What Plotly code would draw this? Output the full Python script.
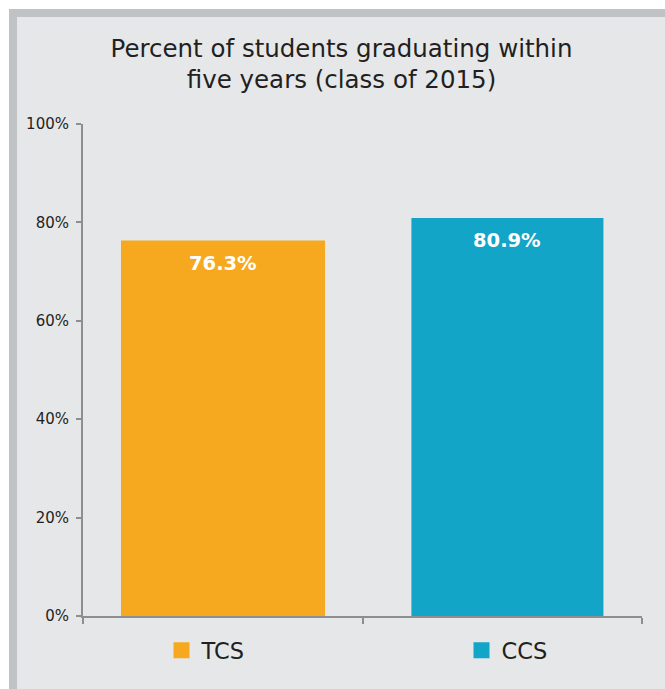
import plotly.graph_objects as go

# ---- data ----
categories = ["TCS", "CCS"]
values = [76.3, 80.9]
labels = ["76.3%", "80.9%"]
colors = ["#F6A91F", "#12A5C7"]
y_ticks = [0, 20, 40, 60, 80, 100]
y_tick_labels = ["0%", "20%", "40%", "60%", "80%", "100%"]

# ---- style ----
W, H = 665, 689
L, R, T, B = 83, 23, 124, 73
bar_width = [0.730, 0.687]
bar_offset = [-0.364, -0.325]
FONT = "DejaVu Sans"
TXT = "#231F20"
AXIS = "#8C8E90"
legend_left_px = [161.5, 461.5]
legend_mid_px = 650.5

pw, ph = W - L - R, H - T - B


def px_x(p):
    return (p - L) / pw


def px_y(p):
    return (H - B - p) / ph


fig = go.Figure()
for i, (c, v, col) in enumerate(zip(categories, values, colors)):
    fig.add_trace(go.Bar(
        x=[c], y=[v], name=c, marker=dict(color=col, line=dict(width=0)),
        width=bar_width[i], offset=bar_offset[i], hoverinfo="skip",
        showlegend=False,
    ))
    # legend entry (square swatch)
    fig.add_trace(go.Scatter(
        x=[None], y=[None], name=c, mode="markers",
        marker=dict(symbol="square", size=19, color=col),
        legend="legend" if i == 0 else "legend2", showlegend=True,
    ))
    fig.add_annotation(
        x=i + bar_offset[i] + bar_width[i] / 2, y=v, text=labels[i],
        showarrow=False, yanchor="top", yshift=-9.5,
        font=dict(family=FONT, size=19.5, color="white", weight="bold"),
    )

shapes = [
    dict(type="rect", xref="paper", yref="paper", layer="below",
         x0=px_x(9), x1=px_x(W + 10), y0=px_y(H + 10), y1=px_y(9),
         fillcolor="#C1C2C5", line=dict(width=0)),
    dict(type="rect", xref="paper", yref="paper", layer="below",
         x0=px_x(17), x1=px_x(W + 10), y0=px_y(H + 10), y1=px_y(17),
         fillcolor="#E6E7E9", line=dict(width=0)),
]

legend_common = dict(
    orientation="h", xanchor="left", xref="container", yref="container",
    y=1 - legend_mid_px / H, yanchor="middle",
    font=dict(family=FONT, size=22.5, color=TXT),
    bgcolor="rgba(0,0,0,0)", itemclick=False, itemdoubleclick=False,
    borderwidth=0,
)

fig.update_layout(
    width=W, height=H,
    margin=dict(l=L, r=R, t=T, b=B, pad=0, autoexpand=False),
    paper_bgcolor="white", plot_bgcolor="rgba(0,0,0,0)",
    barmode="overlay",
    shapes=shapes,
    title=dict(
        text="Percent of students graduating within<br>five years (class of 2015)",
        x=341.5 / W, xanchor="center", xref="container",
        y=1 - 56.5 / H, yanchor="top", yref="container",
        font=dict(family=FONT, size=24.5, color=TXT),
    ),
    font=dict(family=FONT, color=TXT),
    showlegend=True,
    legend=dict(legend_common, x=legend_left_px[0] / W),
    legend2=dict(legend_common, x=legend_left_px[1] / W),
    xaxis=dict(
        type="category", showline=True, linecolor=AXIS, linewidth=2,
        ticks="outside", tickson="boundaries", ticklen=6, tickcolor=AXIS, tickwidth=2,
        showticklabels=False, showgrid=False, zeroline=False, fixedrange=True,
        range=[-0.5, 1.5], automargin=False,
    ),
    yaxis=dict(
        range=[0, 100], tickvals=y_ticks, ticktext=y_tick_labels,
        showline=True, linecolor=AXIS, linewidth=2,
        ticks="outside", ticklen=5, tickcolor=AXIS, tickwidth=2,
        showgrid=False, zeroline=False, fixedrange=True,
        tickfont=dict(family=FONT, size=15, color=TXT),
        ticklabelstandoff=4, automargin=False,
    ),
)

fig.write_html(
    "out.html",
    config={"displayModeBar": False},
    post_script="document.body.style.margin='0';"
                "document.documentElement.style.overflow='hidden';"
                "document.body.style.overflow='hidden';",
)
